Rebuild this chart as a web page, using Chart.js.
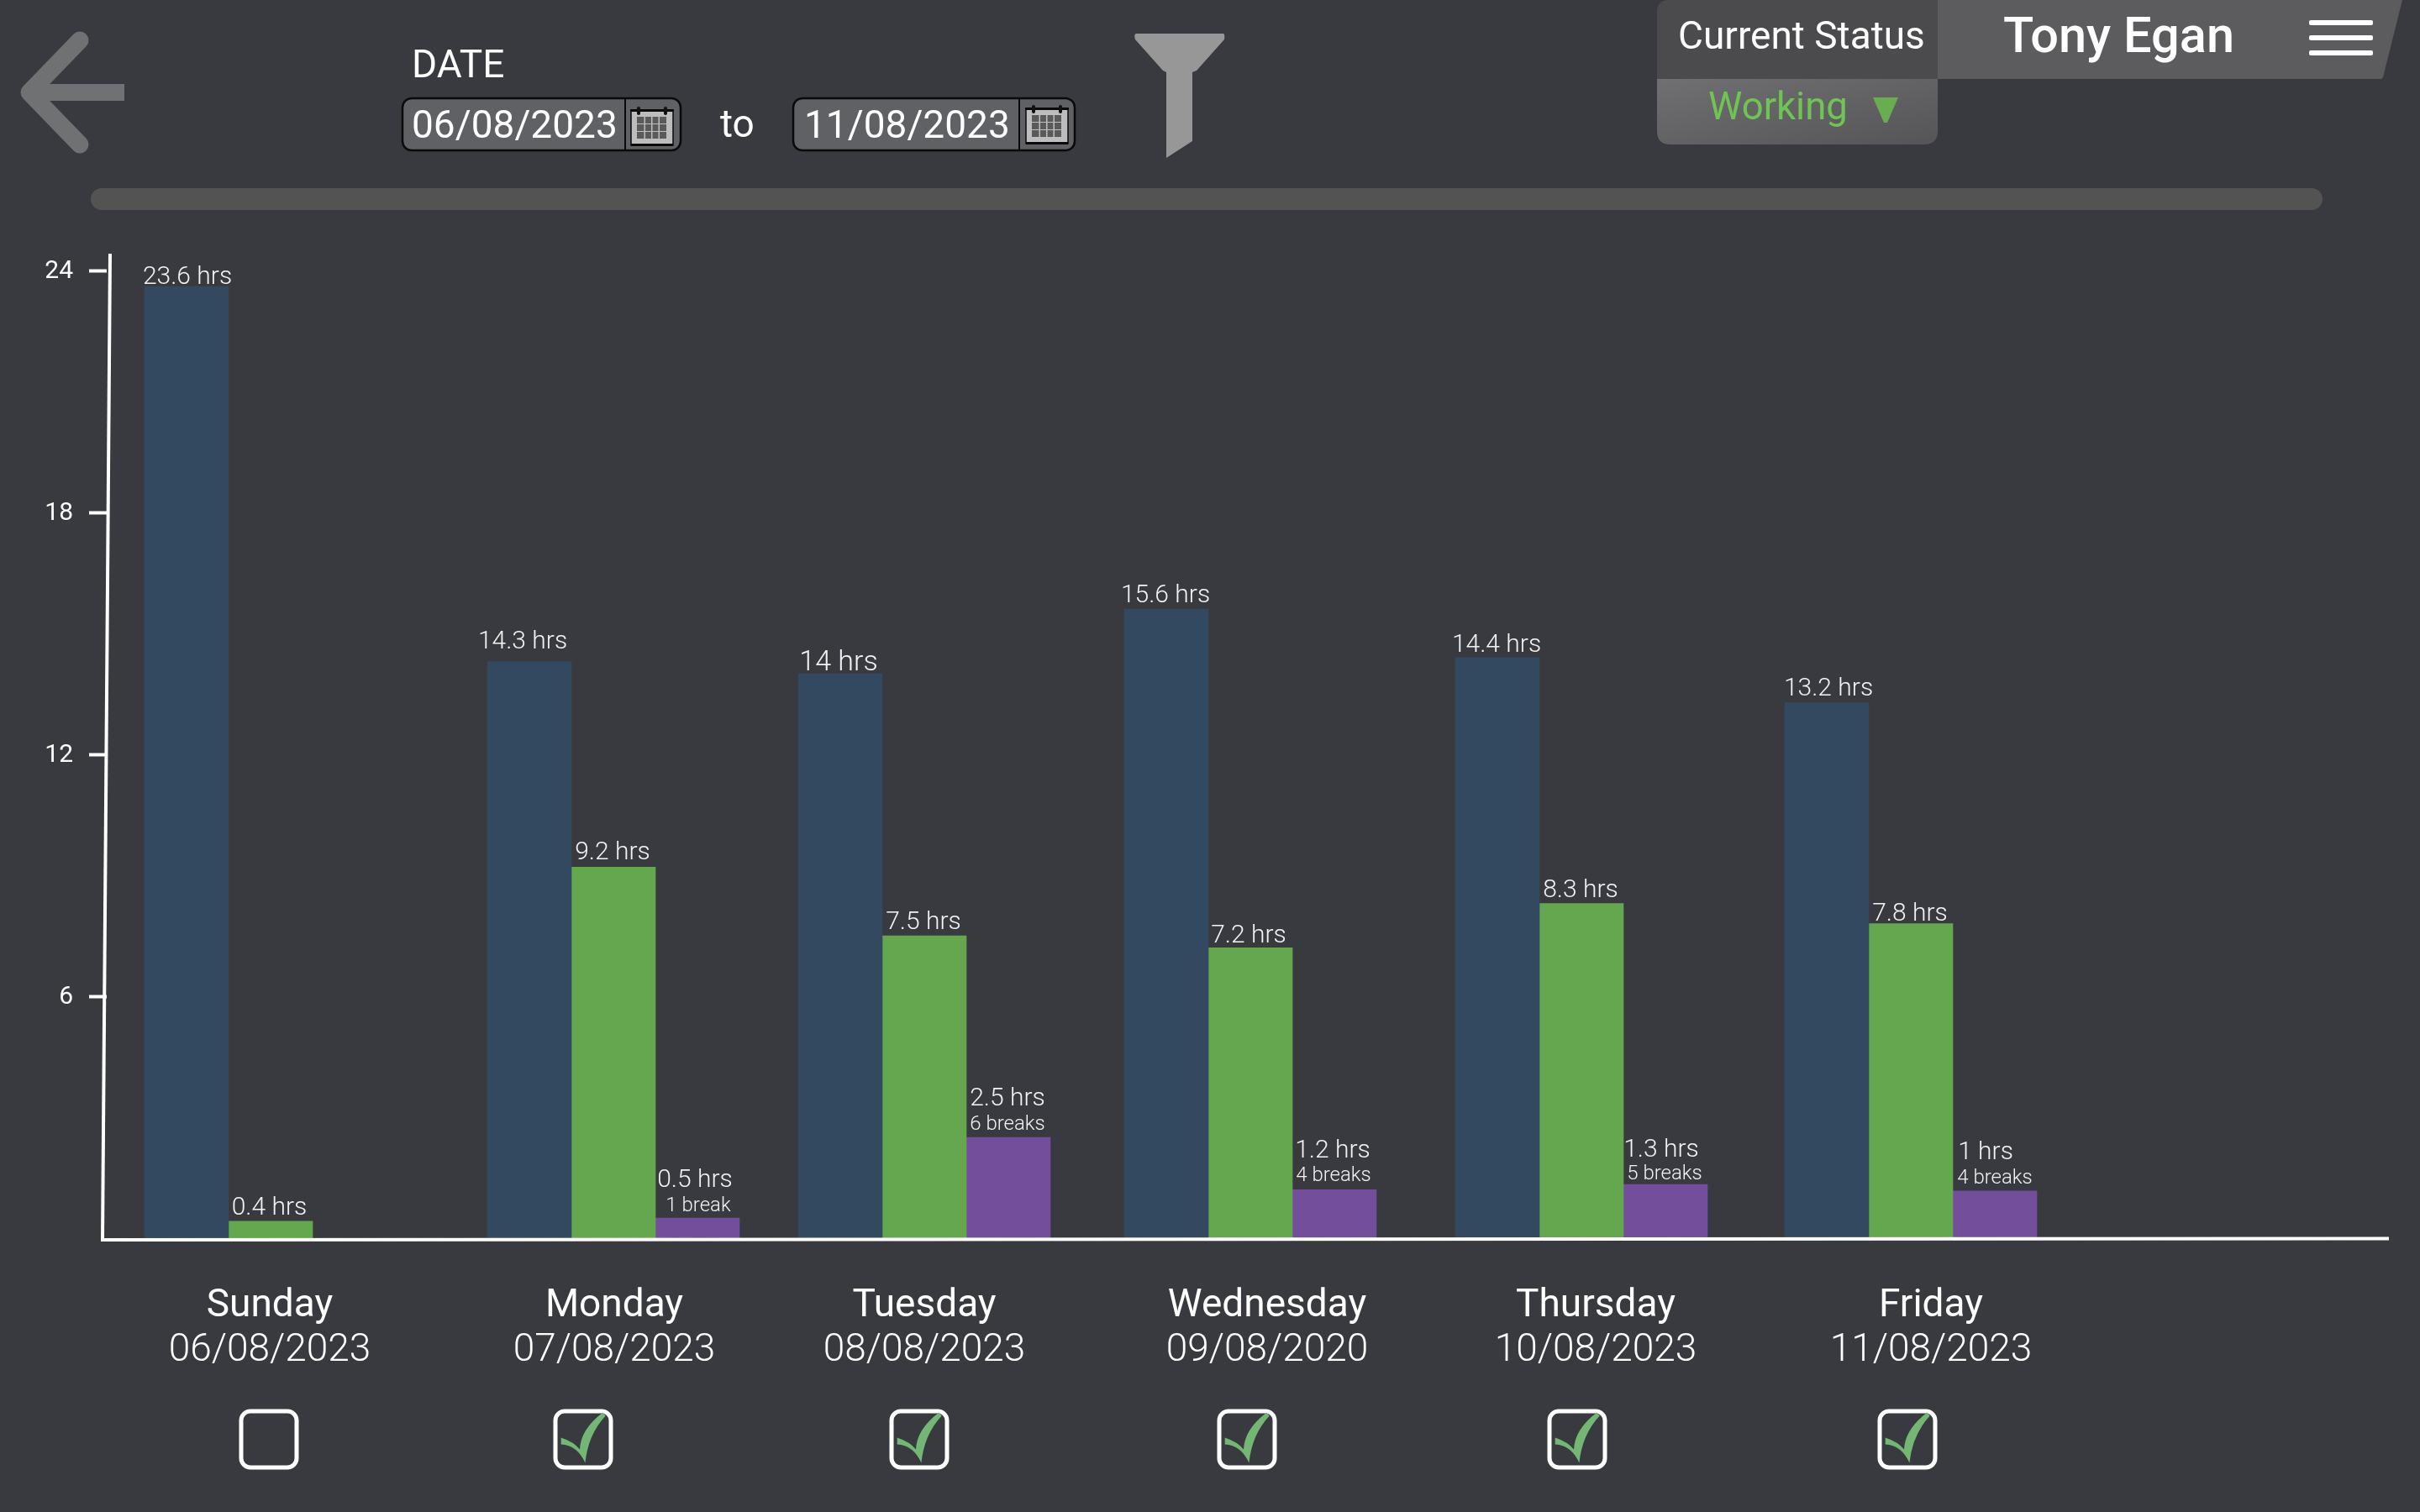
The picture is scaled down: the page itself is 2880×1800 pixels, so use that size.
<!DOCTYPE html>
<html><head><meta charset="utf-8">
<script src="https://cdn.jsdelivr.net/npm/chart.js@4"></script>
<style>
html,body{margin:0;padding:0;background:#393a3f;width:2880px;height:1800px;overflow:hidden}
#c{position:absolute;left:0;top:0;display:block}
#ui{position:absolute;left:0;top:0}
#ui text{font-family:Roboto,sans-serif}
</style></head><body>
<canvas id="c" width="2880" height="1800"></canvas>
<svg id="ui" width="2880" height="1800" viewBox="0 0 2880 1800" xmlns="http://www.w3.org/2000/svg">
<defs>
<linearGradient id="wg" x1="0" y1="0" x2="1" y2="1"><stop offset="0" stop-color="#707072"/><stop offset="1" stop-color="#555558"/></linearGradient>
<g id="cal">
 <rect x="1" y="5" width="50" height="42" fill="#bdbdbd" stroke="#0a0a0a" stroke-width="1.5"/>
 <rect x="1" y="45" width="50" height="3" fill="#0a0a0a"/>
 <rect x="0" y="4" width="52" height="3" fill="#0a0a0a"/>
 <rect x="8" y="1" width="4" height="10" rx="2" fill="#111"/><rect x="40" y="1" width="4" height="10" rx="2" fill="#111"/>
 <g fill="#5a5a5a"><rect x="8" y="13" width="35" height="8"/><rect x="8" y="22" width="35" height="8"/><rect x="8" y="31" width="35" height="8"/></g>
 <g fill="#bdbdbd"><rect x="16.5" y="13" width="1.5" height="26"/><rect x="25" y="13" width="1.5" height="26"/><rect x="33.5" y="13" width="1.5" height="26"/></g>
</g>
</defs>
<!-- back arrow -->
<polyline points="95,48 35,110 95,172" fill="none" stroke="#707172" stroke-width="21" stroke-linecap="round" stroke-linejoin="round"/>
<rect x="38" y="100" width="110" height="20" fill="#707172"/>
<!-- date filter -->
<text x="490" y="92" font-size="46" font-weight="400" fill="#fff">DATE</text>
<rect x="479" y="117" width="331" height="62" rx="11" fill="#606165" stroke="#0a0a0a" stroke-width="2.5"/>
<line x1="744" y1="117" x2="744" y2="179" stroke="#0a0a0a" stroke-width="2"/>
<text x="490" y="164" font-size="46" font-weight="400" fill="#fff">06/08/2023</text>
<use href="#cal" x="750" y="126"/>
<text x="857" y="163" font-size="46" font-weight="400" fill="#fff">to</text>
<rect x="944" y="117" width="335" height="62" rx="11" fill="#606165" stroke="#0a0a0a" stroke-width="2.5"/>
<line x1="1213" y1="117" x2="1213" y2="179" stroke="#0a0a0a" stroke-width="2"/>
<text x="957" y="164" font-size="46" font-weight="400" fill="#fff">11/08/2023</text>
<use href="#cal" x="1220" y="124"/>
<!-- funnel -->
<path d="M1352,40 L1456,40 Q1458,41 1457,47 L1424,84 L1419,86 L1419,168 L1388,188 L1388,86 L1384,84 L1351,47 Q1349,41 1352,40 Z" fill="#979797"/>
<!-- status block -->
<path d="M1972,94 L1972,14 Q1972,0 1986,0 L2306,0 L2306,94 Z" fill="#4b4b4d"/>
<path d="M1972,94 L2306,94 L2306,156 Q2306,172 2290,172 L1988,172 Q1972,172 1972,156 Z" fill="url(#wg)"/>
<path d="M2306,0 L2859,0 L2836,92 Q2835,94 2833,94 L2306,94 Z" fill="#5c5c5e"/>
<text x="1997" y="58" font-size="46" font-weight="400" fill="#fff">Current Status</text>
<text x="2384" y="62" font-size="59.5" font-weight="500" fill="#fff">Tony Egan</text>
<text x="2033" y="142" font-size="45.5" font-weight="400" fill="#6fc454">Working</text>
<path d="M2229,116 L2259,116 L2246,146 L2242,146 Z" fill="#6aac50"/>
<g fill="#fff"><rect x="2748" y="24" width="76" height="6" rx="2"/><rect x="2748" y="42" width="76" height="6" rx="2"/><rect x="2748" y="60" width="76" height="6" rx="2"/></g>
<!-- progress track -->
<rect x="108" y="224" width="2656" height="26" rx="13" fill="#535354"/>
<g id="boxes"></g>
</svg>
<script>
/* ---------- data ---------- */
const dayNames = ["Sunday","Monday","Tuesday","Wednesday","Thursday","Friday"];
const dayDates = ["06/08/2023","07/08/2023","08/08/2023","09/08/2020","10/08/2023","11/08/2023"];
const yTicks = [6,12,18,24];
const totalHours = [23.6,14.3,14,15.6,14.4,13.28];
const workedHours = [0.42,9.2,7.5,7.2,8.3,7.8];
const breakHours = [null,0.5,2.5,1.2,1.33,1.17];
const totalLabels = ["23.6 hrs","14.3 hrs","14 hrs","15.6 hrs","14.4 hrs","13.2 hrs"];
const workedLabels = ["0.4 hrs","9.2 hrs","7.5 hrs","7.2 hrs","8.3 hrs","7.8 hrs"];
const breakLabels = [null,"0.5 hrs","2.5 hrs","1.2 hrs","1.3 hrs","1 hrs"];
const breakCounts = [null,"1 break","6 breaks","4 breaks","5 breaks","4 breaks"];
const approved = [false,true,true,true,true,true];

/* ---------- layout (the mock-up spaces its days unevenly) ---------- */
const plot = {left:127, right:2843, top:322, bottom:1474};
const groupCentres = [322,730,1100,1488,1882,2274];
const dayLabelCentres = [321,731,1100,1508,1899,2298];
const boxCentres = [320,694,1094,1484,1877,2270];
const barWidth = 100;
const labelLayout = {
  total: {dx:[1,-8,-2,-1,-1,2], gap:[3,16,4,8,7,9], size:[30,30,34,30,30,30]},
  worked:{dx:[-1.5,-1,-1,-2,-1,-1], gap:[8,9,8,6,8,4]},
  breakH:{dx:[0,-3,-1,-2,-5,-11], rise:[0,29,29,28,27,29]},
  breakN:{dx:[0,1,-1,-1,-1,0], gap:[0,8,9,10,6,9]}
};
const toPoints = vals => vals.map((v,i)=>({x:groupCentres[i], y:v}));

const labelPlugin = {
  id:'barLabels',
  afterDatasetsDraw(chart){
    const ctx = chart.ctx;
    ctx.save();
    ctx.fillStyle = '#f2f2f2'; ctx.textAlign='center'; ctx.textBaseline='alphabetic';
    const put=(t,x,y,s)=>{ctx.font=`300 ${s}px Roboto`;ctx.fillText(t,x,y);};
    const m0=chart.getDatasetMeta(0).data, m1=chart.getDatasetMeta(1).data, m2=chart.getDatasetMeta(2).data;
    dayNames.forEach((_,i)=>{
      let L=labelLayout.total;
      put(totalLabels[i], m0[i].x+L.dx[i], m0[i].y-L.gap[i], L.size[i]);
      L=labelLayout.worked;
      put(workedLabels[i], m1[i].x+L.dx[i], m1[i].y-L.gap[i], 30);
      if(breakLabels[i]){
        const N=labelLayout.breakN, H=labelLayout.breakH;
        const by=m2[i].y-N.gap[i];
        put(breakCounts[i], m2[i].x+N.dx[i], by, 24);
        put(breakLabels[i], m2[i].x+H.dx[i], by-H.rise[i], 30);
      }
    });
    ctx.restore();
  }
};
const axisPlugin = {
  id:'handDrawnAxes',
  afterDatasetsDraw(chart){
    const {ctx,chartArea:a}=chart;
    ctx.save();
    ctx.strokeStyle='#ffffff'; ctx.lineWidth=4; ctx.lineCap='butt';
    ctx.beginPath(); ctx.moveTo(a.left+4,a.top-20); ctx.lineTo(a.left-5,a.bottom+4); ctx.stroke();
    ctx.beginPath(); ctx.moveTo(a.left-7,a.bottom+2); ctx.lineTo(a.right,a.bottom+0.5); ctx.stroke();
    ctx.restore();
  }
};

new Chart(document.getElementById('c'),{
  type:'bar',
  data:{datasets:[
    {label:'Total',data:toPoints(totalHours),backgroundColor:'#33495f',barThickness:barWidth},
    {label:'Worked',data:toPoints(workedHours),backgroundColor:'#65a74f',barThickness:barWidth},
    {label:'Breaks',data:toPoints(breakHours),backgroundColor:'#724e9b',barThickness:barWidth}
  ]},
  plugins:[labelPlugin,axisPlugin],
  options:{
    responsive:false, animation:false, devicePixelRatio:1,
    layout:{padding:{top:plot.top,left:0,right:2880-plot.right,bottom:160}},
    plugins:{legend:{display:false},tooltip:{enabled:false},title:{display:false}},
    scales:{
      x:{type:'linear',position:'bottom',weight:1,min:plot.left,max:plot.right,offset:false,
         grid:{display:false},border:{display:false},
         afterBuildTicks:s=>{s.ticks=dayLabelCentres.map(v=>({value:v}));},
         afterFit:s=>{s.height=106;},
         ticks:{autoSkip:false,maxRotation:0,minRotation:0,padding:46,color:'#ffffff',
           font:{family:'Roboto',size:46,weight:'400'},
           callback:(v,i)=>dayNames[i]}},
      x2:{type:'linear',position:'bottom',weight:2,min:plot.left,max:plot.right,offset:false,
         grid:{display:false},border:{display:false},
         afterBuildTicks:s=>{s.ticks=dayLabelCentres.map(v=>({value:v}));},
         afterFit:s=>{s.height=60;},
         ticks:{autoSkip:false,maxRotation:0,minRotation:0,padding:-7,color:'#ffffff',
           font:{family:'Roboto',size:46,weight:'300'},
           callback:(v,i)=>dayDates[i]}},
      y:{type:'linear',position:'left',min:0,max:24,
         border:{display:false},
         grid:{drawOnChartArea:false,drawTicks:true,tickLength:21,tickWidth:4,tickColor:'#ffffff'},
         afterBuildTicks:s=>{s.ticks=yTicks.map(v=>({value:v}));},
         afterFit:s=>{s.width=plot.left;},
         ticks:{color:'#ffffff',padding:19,labelOffset:1.5,font:{family:'Roboto',size:30,weight:'400'},
           callback:v=>String(v)}}
    }
  }
});

/* approval check boxes under each day */
const boxes=document.getElementById('boxes'), NS='http://www.w3.org/2000/svg';
boxCentres.forEach((cx,i)=>{
  const g=document.createElementNS(NS,'g');
  g.setAttribute('transform',`translate(${cx},1713.5)`);
  let inner=`<rect x="-33" y="-33.5" width="66" height="67" rx="11" fill="none" stroke="#fff" stroke-width="5"/>`;
  if(approved[i]) inner+=`<path d="M-26.3,-2 Q-11,3 -4,12 Q-3,-12 23.5,-32 L26.7,-28 Q6,-6 2.4,28 Q-7,7 -26.3,6 Z" fill="#74b673"/>`;
  g.innerHTML=inner; boxes.appendChild(g);
});
</script>
</body></html>
